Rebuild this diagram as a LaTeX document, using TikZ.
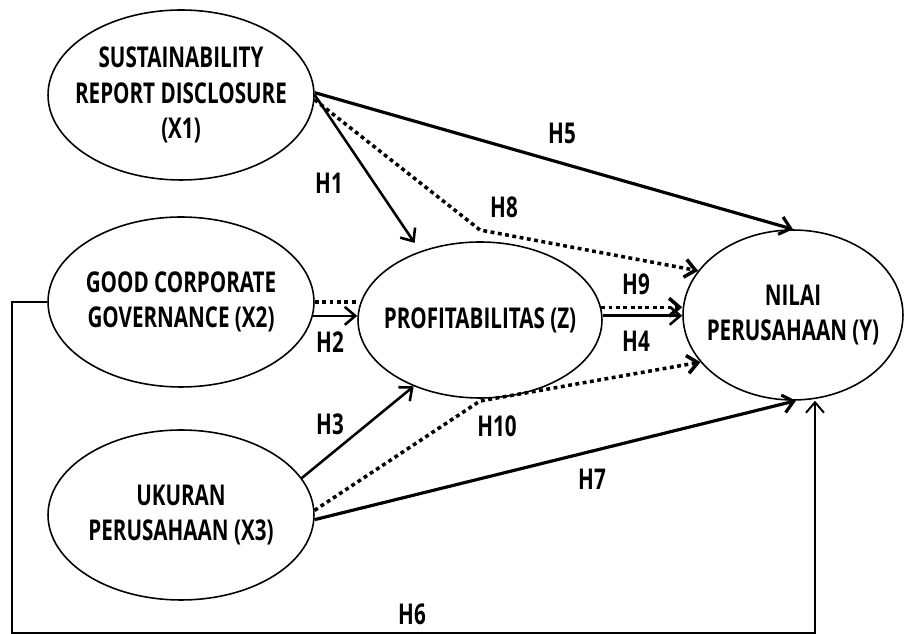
\documentclass[tikz,border=0pt]{standalone}
\usepackage{fontspec}
\setmainfont[FakeStretch=0.72]{Open Sans}
\usetikzlibrary{arrows.meta,shapes.geometric}
\newcommand\pathfont{\fontsize{16.3}{20}\selectfont\bfseries}
\tikzset{
  >={Straight Barb[length=2.1mm,width=3.6mm]},
  construct/.style={ellipse,draw,line width=0.9pt,inner xsep=-8pt,inner ysep=0pt,align=center,font=\pathfont},
  hyp/.style={->,line width=1.45pt},
  hyp strong/.style={->,line width=1.8pt},
  hyp dots/.style={->,line width=2pt,dash pattern=on 2.2pt off 2pt},
  hlabel/.style={font=\pathfont,inner sep=0pt},
}
\begin{document}
\begin{tikzpicture}[x=0.02cm,y=-0.02cm]
  \useasboundingbox (0,0) rectangle (904,634);
  % constructs
  \node[construct,minimum width=5.32cm,minimum height=3.4cm] (x1) at (181,95) {SUSTAINABILITY\\REPORT DISCLOSURE\\(X1)};
  \node[construct,minimum width=5.32cm,minimum height=3.4cm] (x2) at (181,302) {GOOD CORPORATE\\GOVERNANCE (X2)};
  \node[construct,minimum width=5.32cm,minimum height=3.4cm] (x3) at (181,515) {UKURAN\\PERUSAHAAN (X3)};
  \node[construct,minimum width=4.88cm,minimum height=3.12cm] (z) at (480,320) {PROFITABILITAS (Z)};
  \node[construct,minimum width=4.4cm,minimum height=3.4cm] (y) at (793,315) {NILAI\\PERUSAHAAN (Y)};
  \coordinate (b8) at (480,230);
  \coordinate (b10) at (480,401);
  \coordinate (c6) at (12,633);
  % direct paths
  \draw[hyp,shorten >=0.2cm] (x1.east) -- (z.131);
  \draw[hyp strong] (x1.1) -- (y.north);
  \draw[hyp] (x2.-6) -- (x2.-6 -| z.west);
  \draw[hyp] (x3.17) -- (z.225);
  \draw[hyp strong] (x3.-2) -- (y.-88);
  \draw[hyp] (z.2) -- (z.2 -| y.west);
  \draw[hyp,line width=1.1pt] (x2.west) -| (c6) -| ([xshift=0.44cm]y.south);
  % mediated paths
  \draw[hyp dots] (x1.-2) -- (b8) -- (y.155);
  \draw[hyp dots,-] (x2.east) -- (x2.east -| z.west);
  \draw[hyp dots] (x3.2) -- (b10) -- (y.207);
  \draw[hyp dots] (z.6) -- (z.6 -| y.west);
  % labels
  \node[hlabel] (h1) at (329,183) {H1};
  \node[hlabel] (h2) at (330,342) {H2};
  \node[hlabel] (h3) at (330,424) {H3};
  \node[hlabel] (h4) at (636,341) {H4};
  \node[hlabel] (h5) at (562,133) {H5};
  \node[hlabel] (h6) at (412,614) {H6};
  \node[hlabel] (h7) at (592,479) {H7};
  \node[hlabel] (h8) at (504,207) {H8};
  \node[hlabel] (h9) at (636,284) {H9};
  \node[hlabel] (h10) at (497,426) {H10};
\end{tikzpicture}
\end{document}
